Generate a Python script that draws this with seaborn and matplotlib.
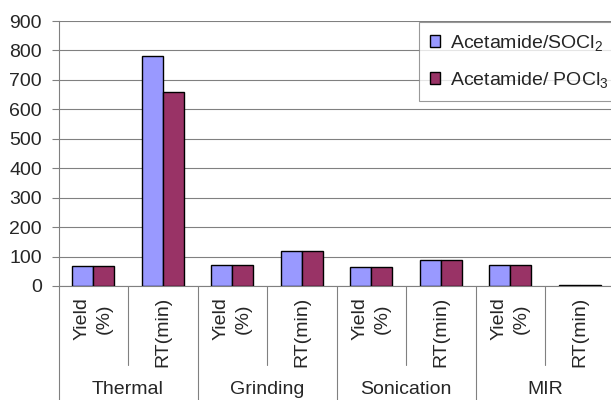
import matplotlib
matplotlib.use("Agg")
import matplotlib.pyplot as plt
import matplotlib.transforms as mtransforms
import seaborn as sns
import pandas as pd

# ---- data ----
methods = ["Thermal", "Grinding", "Sonication", "MIR"]
measures = ["Yield\n(%)", "RT(min)"]
series_names = ["Acetamide/SOCl$_2$", "Acetamide/ POCl$_3$"]
socl2_values = [69, 780, 72, 120, 63, 90, 72, 5]
pocl3_values = [69, 660, 72, 120, 63, 90, 72, 5]
yticks = [0, 100, 200, 300, 400, 500, 600, 700, 800, 900]
colors = ["#9999FF", "#993366"]

items = [f"{m}|{s}" for m in methods for s in measures]
tick_labels = [s for m in methods for s in measures]
rows = []
for name, vals in zip(series_names, [socl2_values, pocl3_values]):
    for it, v in zip(items, vals):
        rows.append({"item": it, "value": v, "series": name})
df = pd.DataFrame(rows)

sns.set_theme(style="white")
plt.rcParams["font.family"] = ["Liberation Sans", "DejaVu Sans"]
plt.rcParams["mathtext.default"] = "regular"
FS = 14

fig = plt.figure(figsize=(6.11, 4.0), dpi=100)
W, H = 611, 400
ax = fig.add_axes([58.5 / W, 1 - 286 / H, (614.5 - 58.5) / W, (286 - 21) / H])

sns.barplot(data=df, x="item", y="value", hue="series", order=items,
            hue_order=series_names, palette=colors, width=0.6, saturation=1,
            edgecolor="black", linewidth=1.0, ax=ax, zorder=3)

ax.set_xlim(-0.5, len(items) - 0.5)
ax.set_ylim(0, 900)
ax.set_yticks(yticks)
ax.set_yticklabels([str(t) for t in yticks], fontsize=FS)
ax.yaxis.grid(True, color="#808080", linewidth=0.8, zorder=0)
ax.set_axisbelow(True)
ax.set_xlabel("")
ax.set_ylabel("")

for s in ["top", "right"]:
    ax.spines[s].set_visible(False)
for s in ["left", "bottom"]:
    ax.spines[s].set_color("#808080")
    ax.spines[s].set_linewidth(0.8)

ax.tick_params(axis="y", which="major", left=True, length=5, width=0.8,
               color="#808080", pad=7, direction="out")
ax.set_xticks(range(len(items)))
ax.set_xticklabels(tick_labels, rotation=90, fontsize=FS, ha="center",
                   va="top", multialignment="center", linespacing=1.45)
ax.tick_params(axis="x", length=0, pad=8)

# category separators
trans = mtransforms.blended_transform_factory(ax.transData, fig.transFigure)
for i in range(len(items) + 1):
    x = i - 0.5
    if i % 2 == 0:
        y0 = 0.0
    else:
        y0 = 1 - 365 / H
    ax.plot([x, x], [1 - 286 / H, y0], transform=trans, color="#808080",
            linewidth=0.8, clip_on=False)

for gi, m in enumerate(methods):
    ax.text(gi * 2 + 0.5, 1 - 390 / H, m, transform=trans, ha="center",
            va="center", fontsize=FS)

leg = ax.legend(loc="upper left", bbox_to_anchor=(419 / W, 1 - 22 / H),
                bbox_transform=fig.transFigure, fontsize=FS, frameon=True,
                fancybox=False, edgecolor="#808080", handlelength=0.55,
                handleheight=0.55, handletextpad=0.5, labelspacing=0.9,
                borderpad=0.55, borderaxespad=0)
leg.get_frame().set_linewidth(0.8)
for h in leg.legend_handles:
    h.set_edgecolor("black")
    h.set_linewidth(1.0)

fig.savefig("out.png", dpi=100)
